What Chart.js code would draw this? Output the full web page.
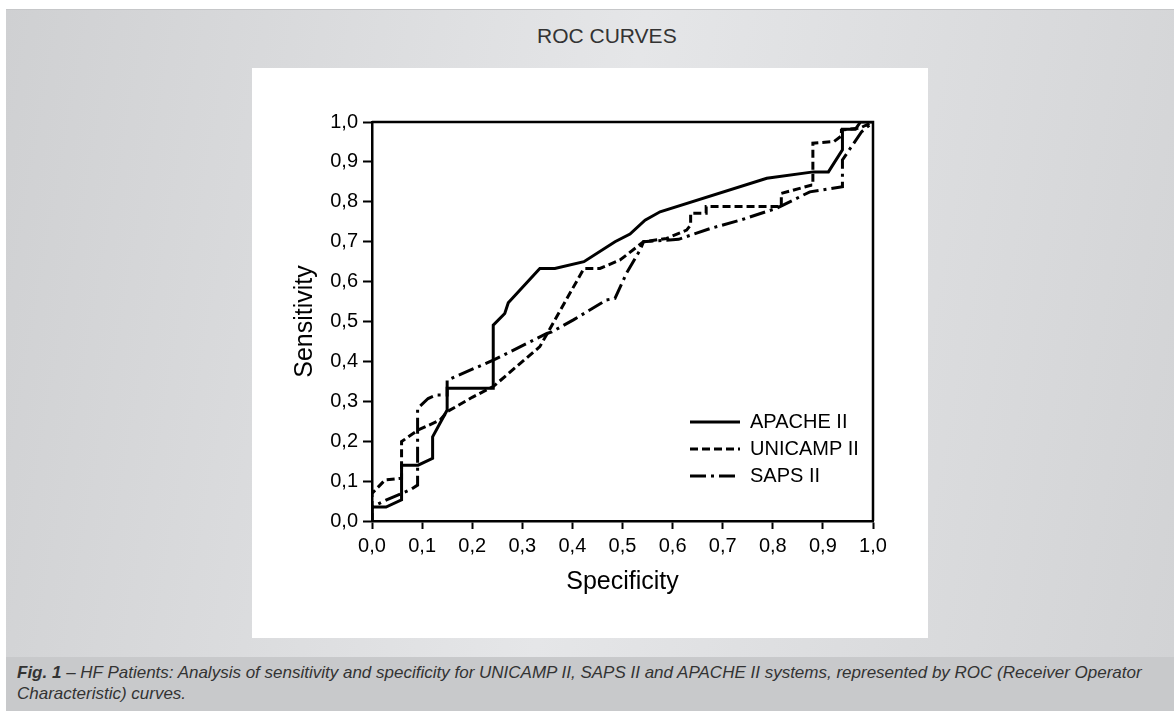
<!DOCTYPE html>
<html>
<head>
<meta charset="utf-8">
<script src="https://cdn.jsdelivr.net/npm/chart.js@4.4.1/dist/chart.umd.min.js"></script>
<style>
    body {
        margin: 0;
        width: 1174px;
        height: 711px;
        background: #fff;
        position: relative;
        overflow: hidden;
        font-family: "Liberation Sans", Arial, sans-serif;
    }
    #panel {
        position: absolute;
        left: 6px;
        top: 9px;
        width: 1168px;
        height: 648px;
        background: linear-gradient(100deg, #cfd0d2 0%, #e5e6e8 50%, #d2d3d5 100%);
        border-top: 1px solid #c6c7c9;
    }
    #title {
        position: absolute;
        left: 537px;
        top: 24px;
        font-size: 21px;
        line-height: 24px;
        color: #333;
    }
    #box {
        position: absolute;
        left: 252px;
        top: 68px;
        width: 676px;
        height: 570px;
        background: #fff;
    }
    #caption {
        position: absolute;
        left: 6px;
        top: 657px;
        width: 1168px;
        height: 54px;
        background: #c8c9cb;
    }
    #caption p {
        margin: 0;
        position: absolute;
        left: 11px;
        top: 5px;
        font-style: italic;
        font-size: 17px;
        line-height: 21px;
        color: #333;
        white-space: nowrap;
    }
</style>
</head>
<body>
<div id="panel"></div>
<div id="title">ROC CURVES</div>
<div id="box"><canvas id="rocChart" width="676" height="570"></canvas></div>
<div id="caption">
    <p><b>Fig. 1</b> – HF Patients: Analysis of sensitivity and specificity for UNICAMP II, SAPS II and APACHE II systems, represented by ROC (Receiver Operator<br>Characteristic) curves.</p>
</div>

<script>
// valores
const tickLabels = ['0,0', '0,1', '0,2', '0,3', '0,4', '0,5', '0,6', '0,7', '0,8', '0,9', '1,0'];

const apacheSpec = [0, 0, 0.028, 0.059, 0.059, 0.092, 0.121, 0.121, 0.150, 0.150, 0.242, 0.242, 0.265, 0.272, 0.335, 0.365, 0.423, 0.485, 0.515, 0.545, 0.575, 0.788, 0.881, 0.911, 0.939, 0.939, 0.965, 0.975, 1];
const apacheSens = [0, 0.035, 0.035, 0.053, 0.140, 0.140, 0.157, 0.211, 0.278, 0.333, 0.333, 0.491, 0.520, 0.547, 0.633, 0.633, 0.650, 0.700, 0.719, 0.754, 0.775, 0.859, 0.875, 0.875, 0.930, 0.982, 0.982, 1.0, 1.0];

const unicampSpec = [0, 0, 0.026, 0.059, 0.059, 0.092, 0.136, 0.150, 0.200, 0.242, 0.335, 0.423, 0.455, 0.495, 0.542, 0.588, 0.628, 0.636, 0.636, 0.660, 0.667, 0.667, 0.814, 0.817, 0.817, 0.878, 0.880, 0.880, 0.922, 0.937, 0.937, 0.974, 1];
const unicampSens = [0, 0.069, 0.103, 0.107, 0.199, 0.228, 0.253, 0.274, 0.310, 0.337, 0.437, 0.633, 0.633, 0.654, 0.700, 0.708, 0.729, 0.742, 0.771, 0.771, 0.771, 0.788, 0.788, 0.788, 0.821, 0.842, 0.842, 0.947, 0.951, 0.965, 0.980, 0.985, 1.0];

const sapsSpec = [0, 0, 0.029, 0.076, 0.091, 0.091, 0.112, 0.129, 0.150, 0.150, 0.242, 0.349, 0.359, 0.402, 0.468, 0.485, 0.508, 0.535, 0.542, 0.612, 0.675, 0.735, 0.808, 0.874, 0.939, 0.939, 0.977, 1];
const sapsSens = [0, 0.035, 0.053, 0.078, 0.090, 0.282, 0.307, 0.316, 0.316, 0.353, 0.403, 0.470, 0.474, 0.504, 0.554, 0.558, 0.621, 0.679, 0.700, 0.706, 0.733, 0.754, 0.784, 0.825, 0.838, 0.905, 0.975, 1.0];

function toPoints(xs, ys){
    return xs.map((x, i) => ({ x: x, y: ys[i] }));
}

Chart.defaults.font.family = '"Liberation Sans", Arial, sans-serif';
Chart.defaults.color = '#000';

// marco superior y derecho del area del grafico
const frame = {
    id: 'frame',
    beforeDatasetsDraw(chart){
        const a = chart.chartArea;
        const c = chart.ctx;
        c.save();
        c.strokeStyle = '#000';
        c.lineWidth = 2.5;
        c.beginPath();
        c.moveTo(a.left, a.top);
        c.lineTo(a.right, a.top);
        c.lineTo(a.right, a.bottom);
        c.stroke();
        c.restore();
    }
};

// leyenda dentro del area, abajo a la derecha
const moveLegend = {
    id: 'moveLegend',
    afterLayout(chart){
        const lg = chart.legend;
        const dx = 431 - lg.left;
        const dy = 337 - lg.top;
        lg.left += dx; lg.right += dx;
        lg.top += dy; lg.bottom += dy;
    }
};

const common = {
    borderColor: '#000',
    backgroundColor: '#000',
    borderWidth: 3,
    pointRadius: 0,
    fill: false,
    tension: 0
};

const ctx = document.getElementById('rocChart');

new Chart(ctx, {
    type: 'line',
    data: {
        datasets: [
            Object.assign({ label: 'APACHE II', data: toPoints(apacheSpec, apacheSens), borderDash: [] }, common),
            Object.assign({ label: 'UNICAMP II', data: toPoints(unicampSpec, unicampSens), borderDash: [8, 4] }, common),
            Object.assign({ label: 'SAPS II', data: toPoints(sapsSpec, sapsSens), borderDash: [16, 5, 3, 5] }, common)
        ]
    },
    options: {
        responsive: false,
        animation: false,
        layout: { padding: { left: 0, top: 54, right: 55, bottom: 0 } },
        plugins: {
            tooltip: { enabled: false },
            legend: {
                position: 'chartArea',
                align: 'start',
                labels: {
                    usePointStyle: true,
                    pointStyle: 'line',
                    pointStyleWidth: 50,
                    padding: 7,
                    color: '#000',
                    font: { size: 20 },
                    generateLabels: chart => chart.data.datasets.map((ds, i) => ({
                        text: ds.label,
                        datasetIndex: i,
                        fillStyle: '#000',
                        strokeStyle: '#000',
                        fontColor: '#000',
                        lineWidth: 3,
                        lineDash: ds.borderDash,
                        lineCap: 'butt',
                        pointStyle: 'line',
                        hidden: false
                    }))
                }
            }
        },
        scales: {
            x: {
                type: 'linear',
                min: 0,
                max: 1,
                afterFit: s => { s.height = 117; },
                border: { display: true, color: '#000', width: 2.5 },
                grid: { drawOnChartArea: false, drawTicks: true, tickLength: 8, tickWidth: 2, color: '#000', tickColor: '#000' },
                ticks: {
                    stepSize: 0.1,
                    autoSkip: false,
                    maxRotation: 0,
                    padding: 5,
                    color: '#000',
                    font: { size: 20 },
                    callback: (v, i) => tickLabels[i]
                },
                title: {
                    display: true,
                    text: 'Specificity',
                    color: '#000',
                    font: { size: 25 },
                    padding: { top: 4, bottom: 41 }
                }
            },
            y: {
                type: 'linear',
                min: 0,
                max: 1,
                afterFit: s => { s.width = 120; },
                border: { display: true, color: '#000', width: 2.5 },
                grid: { drawOnChartArea: false, drawTicks: true, tickLength: 9, tickWidth: 2, color: '#000', tickColor: '#000' },
                ticks: {
                    stepSize: 0.1,
                    autoSkip: false,
                    padding: 5,
                    color: '#000',
                    font: { size: 20 },
                    callback: (v, i) => tickLabels[i]
                },
                title: {
                    display: true,
                    text: 'Sensitivity',
                    color: '#000',
                    font: { size: 25 },
                    padding: { top: 38, bottom: 4 }
                }
            }
        }
    },
    plugins: [frame, moveLegend]
});
</script>
</body>
</html>
